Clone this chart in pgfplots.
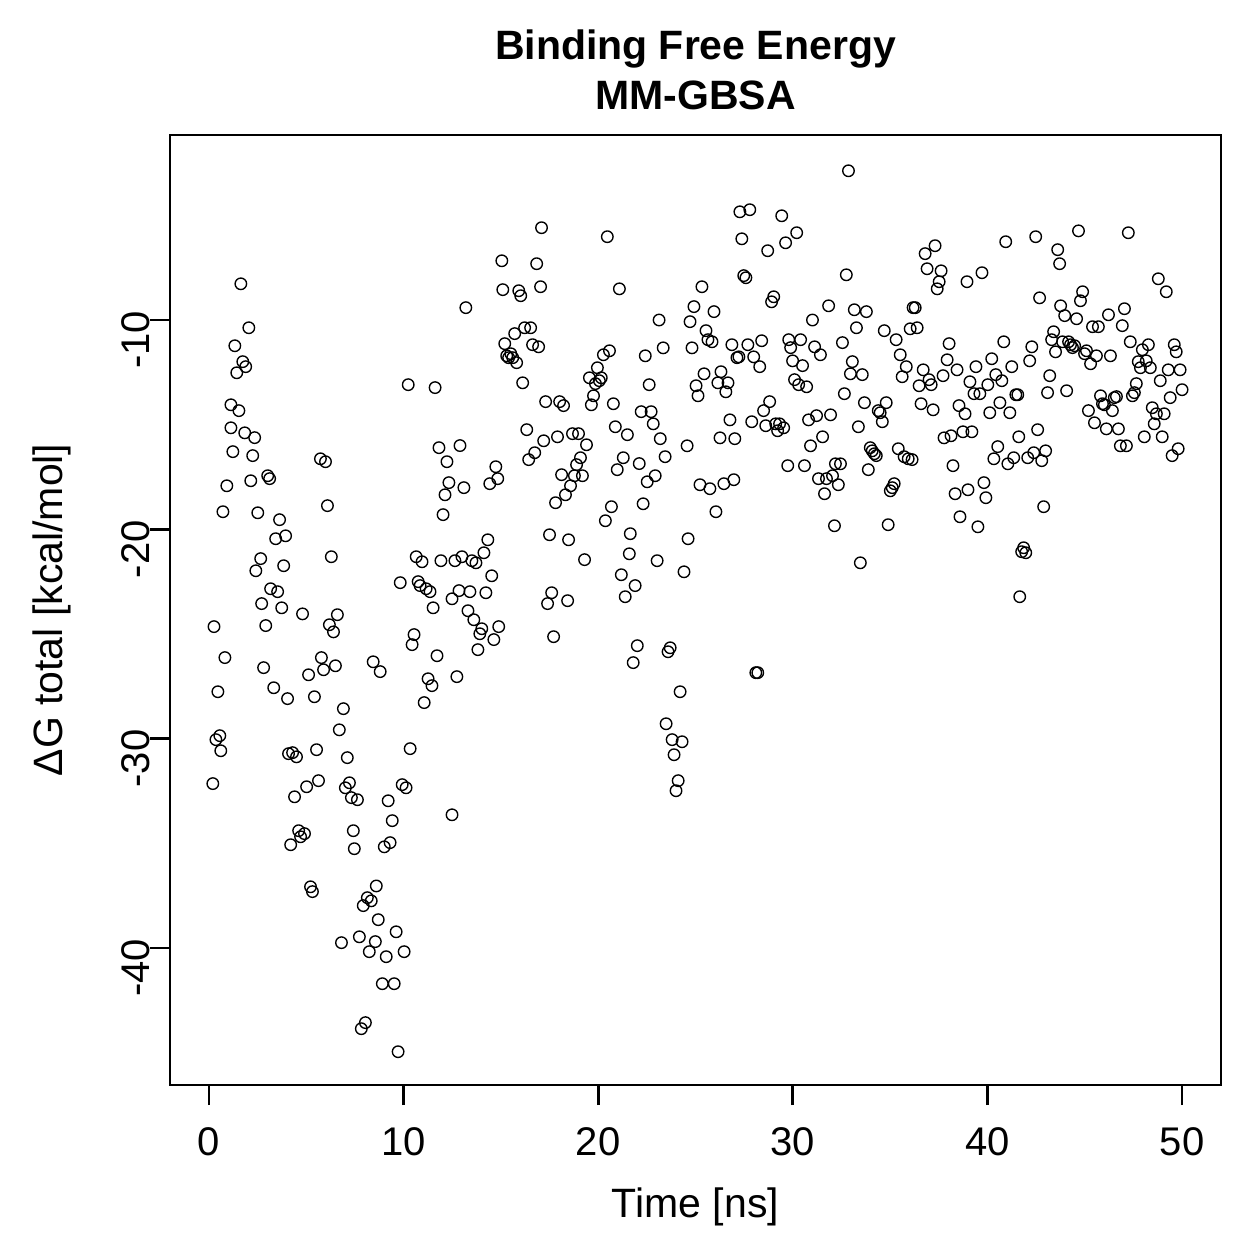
\documentclass[border=0pt]{standalone}
\usepackage{fontspec}
\setmainfont{Liberation Sans}
\usepackage{pgfplots}
\pgfplotsset{compat=1.18}
\usepackage{pgfplotstable}

% time [ns] versus total binding free energy [kcal/mol]
\pgfplotstableread{
t dG
0.20 -32.15
0.26 -24.65
0.36 -30.05
0.46 -27.76
0.56 -29.86
0.61 -30.58
0.72 -19.16
0.82 -26.13
0.92 -17.92
1.13 -15.15
1.13 -14.05
1.23 -16.29
1.33 -11.23
1.43 -12.52
1.54 -14.33
1.64 -8.27
1.74 -11.99
1.84 -15.39
1.89 -12.23
2.05 -10.37
2.15 -17.68
2.25 -16.48
2.35 -15.62
2.41 -21.98
2.51 -19.21
2.66 -21.40
2.71 -23.55
2.81 -26.61
2.92 -24.60
3.02 -17.44
3.12 -17.58
3.17 -22.84
3.33 -27.57
3.43 -20.45
3.53 -22.98
3.63 -19.54
3.74 -23.75
3.84 -21.74
3.94 -20.31
4.04 -28.09
4.09 -30.72
4.20 -35.07
4.30 -30.67
4.40 -32.78
4.50 -30.87
4.61 -34.40
4.71 -34.69
4.81 -24.04
4.91 -34.54
5.02 -32.30
5.12 -26.95
5.22 -37.08
5.32 -37.31
5.42 -28.00
5.53 -30.53
5.63 -32.01
5.73 -16.63
5.78 -26.13
5.89 -26.71
5.99 -16.77
6.09 -18.87
6.19 -24.56
6.29 -21.31
6.40 -24.90
6.50 -26.52
6.60 -24.08
6.70 -29.58
6.81 -39.75
6.91 -28.57
7.01 -32.35
7.11 -30.91
7.22 -32.11
7.32 -32.82
7.42 -34.40
7.47 -35.26
7.63 -32.92
7.73 -39.47
7.83 -43.86
7.93 -37.98
8.04 -43.57
8.14 -37.60
8.24 -40.18
8.34 -37.75
8.44 -26.33
8.55 -39.70
8.60 -37.04
8.70 -38.65
8.80 -26.80
8.91 -41.71
9.01 -35.17
9.11 -40.42
9.21 -32.97
9.31 -34.97
9.42 -33.92
9.52 -41.71
9.62 -39.23
9.72 -44.96
9.83 -22.55
9.93 -32.20
10.03 -40.18
10.13 -32.35
10.24 -13.09
10.34 -30.48
10.44 -25.51
10.54 -25.03
10.65 -21.31
10.75 -22.50
10.85 -22.69
10.95 -21.55
11.06 -28.28
11.16 -22.84
11.26 -27.14
11.36 -22.98
11.46 -27.47
11.52 -23.75
11.62 -13.23
11.72 -26.04
11.82 -16.10
11.92 -21.50
12.03 -19.30
12.13 -18.35
12.23 -16.77
12.33 -17.77
12.49 -23.32
12.49 -33.64
12.64 -21.50
12.74 -27.04
12.85 -22.93
12.90 -16.00
13.00 -21.31
13.10 -18.01
13.20 -9.41
13.31 -23.89
13.41 -22.98
13.51 -21.50
13.61 -24.32
13.72 -21.60
13.82 -25.75
13.92 -24.99
14.02 -24.75
14.13 -21.12
14.23 -23.03
14.33 -20.50
14.43 -17.82
14.53 -22.22
14.64 -25.27
14.74 -17.01
14.84 -17.58
14.89 -24.65
15.05 -7.17
15.10 -8.55
15.20 -11.13
15.30 -11.71
15.40 -11.80
15.51 -11.61
15.61 -11.80
15.71 -10.65
15.81 -12.04
15.92 -8.60
16.02 -8.84
16.12 -13.00
16.22 -10.37
16.33 -15.24
16.43 -16.67
16.53 -10.37
16.63 -11.18
16.74 -16.34
16.84 -7.31
16.94 -11.28
17.04 -8.41
17.09 -5.59
17.20 -15.77
17.30 -13.90
17.40 -23.55
17.50 -20.26
17.61 -23.03
17.71 -25.13
17.81 -18.73
17.91 -15.58
18.02 -13.90
18.12 -17.39
18.22 -14.09
18.32 -18.35
18.43 -23.41
18.48 -20.50
18.58 -17.92
18.68 -15.43
18.78 -17.44
18.89 -16.91
18.99 -15.43
19.09 -16.58
19.19 -17.44
19.30 -21.45
19.40 -15.96
19.55 -12.76
19.65 -14.05
19.76 -13.62
19.86 -13.04
19.96 -12.28
20.06 -12.90
20.16 -12.76
20.27 -11.66
20.37 -19.59
20.47 -6.02
20.58 -11.47
20.68 -18.92
20.78 -14.00
20.88 -15.10
20.98 -17.15
21.09 -8.51
21.19 -22.17
21.29 -16.58
21.39 -23.22
21.50 -15.48
21.60 -21.17
21.65 -20.21
21.80 -26.37
21.90 -22.69
22.01 -25.56
22.11 -16.86
22.21 -14.38
22.31 -18.78
22.42 -11.71
22.52 -17.73
22.62 -13.09
22.72 -14.38
22.83 -14.96
22.93 -17.44
23.03 -21.50
23.13 -10.00
23.19 -15.67
23.34 -11.33
23.44 -16.53
23.49 -29.29
23.59 -25.85
23.70 -25.66
23.80 -30.05
23.90 -30.77
24.00 -32.49
24.11 -32.01
24.21 -27.76
24.31 -30.15
24.41 -22.03
24.57 -16.01
24.62 -20.45
24.72 -10.08
24.82 -11.33
24.92 -9.36
25.03 -13.14
25.13 -13.62
25.23 -17.87
25.33 -8.41
25.44 -12.57
25.54 -10.51
25.64 -10.94
25.74 -18.06
25.85 -11.04
25.95 -9.60
26.05 -19.16
26.15 -13.00
26.26 -15.63
26.31 -12.47
26.46 -17.82
26.56 -13.43
26.67 -13.00
26.77 -14.77
26.87 -11.18
26.97 -17.63
27.02 -15.67
27.13 -11.80
27.23 -11.76
27.28 -4.83
27.38 -6.12
27.48 -7.88
27.59 -7.98
27.69 -11.18
27.79 -4.73
27.89 -14.86
27.99 -11.76
28.10 -26.85
28.20 -26.85
28.30 -12.23
28.40 -10.99
28.50 -14.33
28.61 -15.05
28.71 -6.69
28.81 -13.90
28.91 -9.13
29.02 -8.89
29.12 -14.96
29.22 -15.29
29.32 -14.96
29.43 -5.02
29.53 -15.15
29.63 -6.31
29.74 -16.96
29.79 -10.94
29.89 -11.32
29.99 -11.95
30.09 -12.85
30.20 -5.83
30.30 -13.09
30.40 -10.94
30.50 -12.18
30.60 -16.96
30.71 -13.19
30.81 -14.77
30.91 -16.01
31.01 -10.00
31.12 -11.28
31.22 -14.57
31.32 -17.58
31.42 -11.66
31.53 -15.58
31.63 -18.30
31.73 -17.58
31.84 -9.32
31.94 -14.53
32.04 -17.44
32.14 -19.83
32.19 -16.87
32.34 -17.87
32.45 -16.87
32.55 -11.08
32.65 -13.52
32.75 -7.84
32.86 -2.87
32.96 -12.57
33.06 -11.99
33.16 -9.51
33.27 -10.37
33.37 -15.10
33.47 -21.60
33.57 -12.61
33.68 -13.95
33.78 -9.60
33.88 -17.15
33.98 -16.10
34.08 -16.25
34.19 -16.39
34.29 -16.48
34.39 -14.33
34.49 -14.43
34.60 -14.86
34.70 -10.51
34.80 -13.95
34.90 -19.78
35.01 -18.16
35.11 -18.01
35.21 -17.82
35.31 -10.94
35.42 -16.15
35.52 -11.66
35.62 -12.71
35.72 -16.53
35.83 -12.23
35.93 -16.63
36.03 -10.42
36.13 -16.67
36.18 -9.41
36.29 -9.41
36.39 -10.37
36.49 -13.14
36.59 -14.00
36.70 -12.38
36.80 -6.83
36.90 -7.55
37.00 -12.85
37.11 -13.09
37.21 -14.29
37.31 -6.45
37.42 -8.51
37.52 -8.17
37.62 -7.65
37.72 -12.66
37.77 -15.63
37.93 -11.90
38.03 -11.13
38.13 -15.53
38.23 -16.96
38.34 -18.30
38.44 -12.38
38.54 -14.09
38.59 -19.40
38.74 -15.34
38.85 -14.48
38.95 -8.17
39.00 -18.11
39.10 -12.95
39.20 -15.34
39.31 -13.52
39.41 -12.23
39.51 -19.88
39.61 -13.52
39.72 -7.74
39.82 -17.77
39.92 -18.49
40.02 -13.09
40.12 -14.43
40.22 -11.85
40.33 -16.63
40.43 -12.61
40.53 -16.05
40.64 -13.95
40.74 -12.90
40.84 -11.04
40.94 -6.26
41.05 -16.87
41.15 -14.43
41.25 -12.23
41.35 -16.58
41.46 -13.57
41.56 -13.57
41.61 -15.58
41.66 -23.22
41.76 -21.07
41.86 -20.88
41.97 -21.12
42.07 -16.58
42.17 -11.95
42.28 -11.28
42.38 -16.34
42.48 -6.02
42.58 -15.24
42.68 -8.94
42.79 -16.72
42.89 -18.92
42.99 -16.25
43.09 -13.47
43.20 -12.66
43.30 -10.94
43.40 -10.56
43.50 -11.52
43.61 -6.64
43.71 -7.31
43.76 -9.32
43.86 -11.04
43.97 -9.79
44.07 -13.38
44.17 -11.04
44.27 -11.18
44.37 -11.32
44.48 -11.23
44.58 -9.94
44.68 -5.74
44.78 -9.08
44.89 -8.65
44.99 -11.61
45.09 -11.47
45.19 -14.33
45.30 -12.09
45.40 -10.32
45.50 -14.91
45.60 -11.71
45.70 -10.32
45.81 -13.62
45.91 -14.00
46.01 -14.05
46.11 -15.20
46.22 -9.75
46.32 -11.71
46.42 -14.33
46.52 -13.71
46.63 -13.66
46.73 -15.20
46.83 -16.01
46.93 -10.27
47.04 -9.46
47.14 -16.01
47.24 -5.83
47.34 -11.04
47.45 -13.62
47.55 -13.47
47.65 -13.04
47.75 -11.99
47.86 -12.28
47.96 -11.42
48.06 -15.58
48.16 -11.95
48.27 -11.18
48.37 -12.28
48.47 -14.19
48.57 -14.96
48.68 -14.48
48.78 -8.03
48.88 -12.90
48.98 -15.58
49.08 -14.48
49.19 -8.65
49.29 -12.38
49.39 -13.71
49.49 -16.48
49.60 -11.18
49.70 -11.52
49.80 -16.15
49.90 -12.38
50.00 -13.33
}\gbsa

\begin{document}
\begin{tikzpicture}
\begin{axis}[
  scale only axis,
  width=420.4pt, height=380pt,
  xmin=-2, xmax=52,
  ymin=-46.55, ymax=-1.16,
  axis line style={line width=1.1pt},
  every tick/.style={line width=1.1pt, black},
  tick align=outside,
  major tick length=8pt,
  xtick pos=bottom, ytick pos=left,
  xtick={0,10,20,30,40,50},
  xticklabels={0,10,20,30,40,50},
  ytick={-40,-30,-20,-10},
  yticklabels={-40,-30,-20,-10},
  tick label style={font=\fontsize{16}{19}\selectfont},
  xticklabel style={anchor=north, inner sep=0pt, yshift=-9pt},
  yticklabel style={rotate=90, anchor=south, inner sep=0pt, xshift=-8pt},
  xlabel={Time [ns]},
  ylabel={ΔG total [kcal/mol]},
  label style={font=\fontsize{16.4}{19}\selectfont},
  xlabel style={at={(axis description cs:0.5,-0.128)}, anchor=center, inner sep=0pt},
  ylabel style={at={(axis description cs:-0.1123,0.5)}, anchor=center, rotate=0, inner sep=0pt},
  title={Binding Free Energy\\MM-GBSA},
  title style={font=\fontsize{16.4}{20}\selectfont\bfseries, align=center,
    at={(axis description cs:0.5,1)}, anchor=south, inner sep=0pt, yshift=4pt},
]
\addplot[only marks, mark=o, mark size=2.3pt, mark options={line width=0.55pt, black}]
  table[x=t, y=dG] {\gbsa};
\end{axis}
\path (-68pt,-69.6pt) rectangle (435.6pt,434pt);
\end{tikzpicture}
\end{document}
